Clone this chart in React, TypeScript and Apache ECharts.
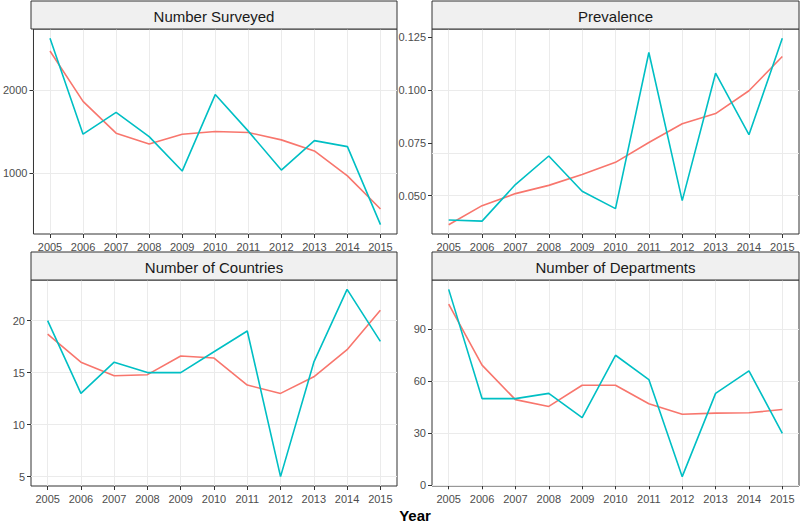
import React, { useEffect, useRef } from "react";
import * as echarts from "echarts";

const years = ["2005", "2006", "2007", "2008", "2009", "2010", "2011", "2012", "2013", "2014", "2015"];

const panelTitles = ["Number Surveyed", "Prevalence", "Number of Countries", "Number of Departments"];

const surveyedObserved = [2630, 1468, 1732, 1439, 1021, 1948, 1505, 1033, 1390, 1317, 371];
const surveyedSmooth = [2476, 1866, 1480, 1350, 1468, 1500, 1488, 1399, 1265, 963, 561];
const prevalenceObserved = [0.0385, 0.038, 0.0553, 0.0688, 0.0521, 0.0439, 0.1178, 0.0477, 0.108, 0.0789, 0.1245];
const prevalenceSmooth = [0.0363, 0.0453, 0.051, 0.0549, 0.0601, 0.0658, 0.0752, 0.0841, 0.0889, 0.0997, 0.1159];
const countriesObserved = [20, 13, 16, 15, 15, 17, 19, 5, 16, 23, 18];
const countriesSmooth = [18.7, 16.0, 14.7, 14.8, 16.6, 16.4, 13.8, 13.0, 14.6, 17.2, 21.0];
const departmentsObserved = [113, 50, 50, 53, 39, 75, 61, 5, 53, 66, 30];
const departmentsSmooth = [104.5, 69.3, 49.4, 45.5, 57.7, 57.7, 47, 41, 41.6, 41.8, 43.7];

const surveyedTicks = [1000, 2000];
const prevalenceTicks = [0.05, 0.075, 0.1, 0.125];
const countriesTicks = [5, 10, 15, 20];
const departmentsTicks = [0, 30, 60, 90];

const xTitle = "Year";

const RED = "#F8766D";
const BLUE = "#00BFC4";
const FONT = "'Liberation Sans', Arial, sans-serif";

const panels = [
  { title: panelTitles[0], obs: surveyedObserved, smooth: surveyedSmooth, ticks: surveyedTicks, decimals: 0, left: 31, top: 29, width: 366, height: 205 },
  { title: panelTitles[1], obs: prevalenceObserved, smooth: prevalenceSmooth, ticks: prevalenceTicks, decimals: 3, left: 432, top: 29, width: 367, height: 205 },
  { title: panelTitles[2], obs: countriesObserved, smooth: countriesSmooth, ticks: countriesTicks, decimals: 0, left: 31, top: 280, width: 366, height: 206 },
  { title: panelTitles[3], obs: departmentsObserved, smooth: departmentsSmooth, ticks: departmentsTicks, decimals: 0, left: 432, top: 280, width: 367, height: 206 },
];

export default function App() {
  const ref = useRef<HTMLDivElement>(null);
  useEffect(() => {
    if (!ref.current) return;
    const chart = echarts.init(ref.current, null, { renderer: "svg" });
    const grid: any[] = [];
    const xAxis: any[] = [];
    const yAxis: any[] = [];
    const series: any[] = [];
    const graphic: any[] = [];
    panels.forEach((p, i) => {
      const all = [...p.obs, ...p.smooth];
      const lo = Math.min(...all);
      const hi = Math.max(...all);
      const pad = (hi - lo) * 0.05;
      grid.push({
        left: p.left, top: p.top, width: p.width, height: p.height,
        show: true, borderColor: "#333333", borderWidth: 1, backgroundColor: "#ffffff",
      });
      xAxis.push({
        type: "category", gridIndex: i, data: years, boundaryGap: true,
        axisLine: { show: false },
        axisTick: { show: true, alignWithLabel: true, length: 4, lineStyle: { color: "#333333" } },
        axisLabel: { color: "#4D4D4D", fontSize: 11, fontFamily: FONT, margin: 7, interval: 0 },
        splitLine: { show: false },
      });
      yAxis.push({
        type: "value", gridIndex: i, min: lo - pad, max: hi + pad,
        axisLine: { show: false },
        axisTick: { show: true, length: 4, customValues: p.ticks, lineStyle: { color: "#333333" } },
        axisLabel: {
          color: "#4D4D4D", fontSize: 11, fontFamily: FONT, margin: 6, customValues: p.ticks,
          formatter: (v: number) => v.toFixed(p.decimals),
        },
        splitLine: { show: false },
      });
      series.push({
        type: "line", xAxisIndex: i, yAxisIndex: i, data: p.smooth, showSymbol: false,
        lineStyle: { color: RED, width: 1.6 }, itemStyle: { color: RED }, z: 3, silent: true,
        markLine: {
          silent: true, symbol: ["none", "none"], label: { show: false }, z: 1,
          lineStyle: { color: "#EBEBEB", width: 1, type: "solid" },
          emphasis: { disabled: true },
          data: [
            ...years.map((y) => ({ xAxis: y })),
            ...p.ticks.map((t) => ({ yAxis: t })),
          ],
        },
      });
      series.push({
        type: "line", xAxisIndex: i, yAxisIndex: i, data: p.obs, showSymbol: false,
        lineStyle: { color: BLUE, width: 1.6 }, itemStyle: { color: BLUE }, z: 4, silent: true,
      });
      const stripH = 28;
      graphic.push({
        type: "rect", shape: { x: p.left, y: p.top - stripH, width: p.width, height: stripH },
        style: { fill: "#F0F0F0", stroke: "#333333", lineWidth: 1 }, z: 10,
      });
      graphic.push({
        type: "text", x: p.left + p.width / 2, y: p.top - stripH / 2 + 1,
        style: { text: p.title, fill: "#1A1A1A", fontSize: 15, fontFamily: FONT, align: "center", verticalAlign: "middle" }, z: 11,
      });
    });
    graphic.push({
      type: "text", x: 415, y: 515,
      style: { text: xTitle, fill: "#000000", fontSize: 15, fontWeight: "bold", fontFamily: FONT, align: "center", verticalAlign: "middle" },
    });
    chart.setOption({
      animation: false,
      backgroundColor: "#ffffff",
      grid, xAxis, yAxis, series, graphic,
    });
    return () => chart.dispose();
  }, []);
  return <div ref={ref} style={{ position: "fixed", left: 0, top: 0, width: 800, height: 523 }} />;
}
